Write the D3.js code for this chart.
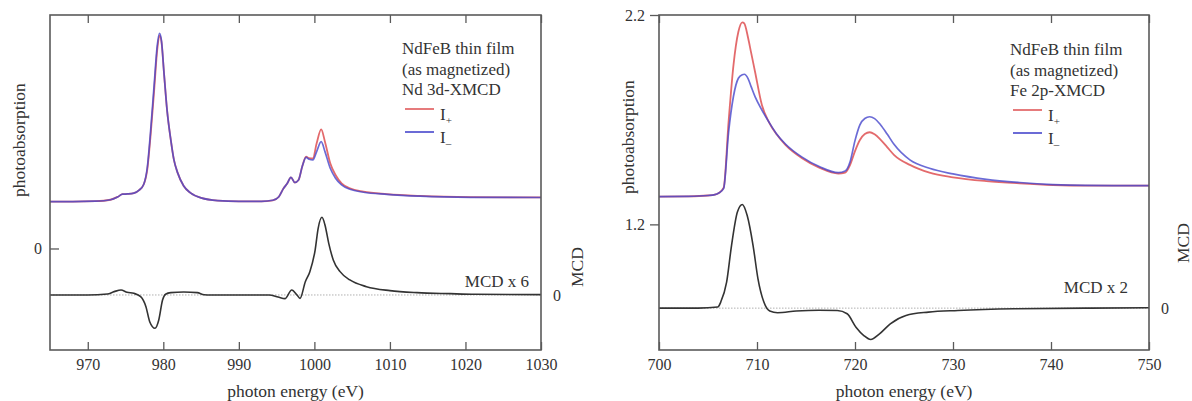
<!DOCTYPE html>
<html><head><meta charset="utf-8">
<script src="https://cdn.jsdelivr.net/npm/d3@7"></script>
<style>
body{margin:0;background:#fff}
text{font-family:"Liberation Serif","Times New Roman",serif;fill:#333}
</style>
</head><body>
<svg id="chart" width="1192" height="401" font-family="Liberation Serif, Times New Roman, serif"></svg>
<script>
// ---------- Nd 3d panel data ----------
const ndEnergy = [965,968,971,973,974,974.6,975.3,976.1,976.8,977.4,977.9,978.3,978.8,979.2,979.5,979.75,980.1,980.5,981.0,981.4,981.9,982.7,983.6,985.0,987.2,990,993,994.5,995.3,995.9,996.4,996.9,997.4,997.9,998.4,998.9,999.3,999.8,1000.3,1000.9,1001.4,1002.1,1002.8,1003.6,1004.7,1006.5,1009.6,1014,1020.7,1030];
const ndIplus  = [0.462,0.462,0.466,0.48,0.51,0.535,0.537,0.545,0.575,0.63,0.79,1.10,1.57,1.96,2.10,2.04,1.72,1.36,1.065,0.875,0.745,0.615,0.548,0.498,0.472,0.465,0.465,0.475,0.51,0.59,0.64,0.70,0.65,0.675,0.81,0.905,0.89,0.888,1.036,1.174,1.052,0.839,0.724,0.642,0.593,0.560,0.536,0.518,0.506,0.503];
const ndIminus = [0.462,0.462,0.466,0.48,0.51,0.535,0.537,0.545,0.575,0.63,0.81,1.14,1.625,2.00,2.12,2.05,1.72,1.36,1.065,0.875,0.745,0.615,0.548,0.498,0.472,0.465,0.465,0.475,0.51,0.59,0.64,0.70,0.65,0.675,0.81,0.898,0.879,0.872,0.954,1.052,0.954,0.790,0.692,0.626,0.583,0.554,0.533,0.515,0.504,0.502];
const ndMcdEnergy = [965,970,972.6,973.5,974.4,975.2,976.1,977.0,977.7,978.2,978.9,979.4,979.9,980.3,981.0,982.7,984.5,985.4,986.3,991.5,994.0,995.2,996.1,997.0,997.7,998.1,998.8,999.4,1000.1,1000.5,1001.0,1001.4,1001.9,1002.5,1003.4,1004.7,1006.9,1010.0,1013.6,1018,1021.3,1030];
const ndMcd = [0,0,0.01,0.033,0.049,0.026,0.016,-0.016,-0.115,-0.263,-0.328,-0.246,-0.05,0.007,0.023,0.03,0.023,0.003,0,0,0,-0.02,-0.036,0.049,0,-0.033,0.131,0.23,0.443,0.657,0.765,0.69,0.509,0.345,0.23,0.148,0.082,0.043,0.023,0.013,0.007,0.003];
const ndTicks = [970,980,990,1000,1010,1020,1030];
const ndYTicks = [0];
const ndLegend = ["NdFeB thin film","(as magnetized)","Nd 3d-XMCD"];
const ndMcdLabel = "MCD x 6";

// ---------- Fe 2p panel data ----------
const feEnergy = [700,703,705,705.7,706.1,706.6,707.1,707.6,708.1,708.5,708.7,709.1,709.4,709.8,710.5,711.2,712.0,712.9,714.6,716.4,718.3,719.0,719.5,720.0,720.5,721.0,721.5,722.0,722.6,723.3,724.0,725.6,727.6,730,733.4,736.8,740.2,743.5,750];
const feIplus  = [1.333,1.334,1.338,1.342,1.350,1.375,1.690,1.961,2.120,2.165,2.160,2.089,2.02,1.929,1.770,1.690,1.630,1.580,1.516,1.470,1.443,1.447,1.484,1.550,1.603,1.632,1.640,1.630,1.605,1.568,1.531,1.484,1.447,1.425,1.407,1.396,1.388,1.385,1.385];
const feIminus = [1.333,1.334,1.338,1.342,1.350,1.372,1.640,1.812,1.898,1.915,1.917,1.895,1.858,1.81,1.746,1.690,1.632,1.584,1.521,1.475,1.447,1.455,1.499,1.600,1.675,1.706,1.714,1.705,1.676,1.630,1.581,1.508,1.468,1.441,1.415,1.400,1.390,1.386,1.385];
const feMcdEnergy = [700,704,706.0,706.3,706.9,707.4,708.0,708.5,709.0,709.6,710.1,710.7,711.3,712.1,714.0,716.3,718.2,719.2,720.1,720.9,721.6,722.5,723.6,725.2,727.5,730.5,736.3,744,750];
const feMcd = [0,0,0.005,0.029,0.124,0.299,0.459,0.495,0.442,0.299,0.140,0.029,-0.014,-0.022,-0.014,-0.010,-0.011,-0.027,-0.091,-0.131,-0.150,-0.123,-0.075,-0.035,-0.019,-0.011,-0.003,0,0.002];
const feTicks = [700,710,720,730,740,750];
const feYTicks = [1.2,2.2];
const feLegend = ["NdFeB thin film","(as magnetized)","Fe 2p-XMCD"];
const feMcdLabel = "MCD x 2";

const RED = "#e05a5c", BLUE = "#4646cc", BLACK = "#333", FRAME = "#5a5a5a";
const FONT = '"Liberation Serif","Times New Roman",serif';
const svg = d3.select("#chart");
svg.append("rect").attr("width",1192).attr("height",401).attr("fill","#fff");

function drawPanel(cfg){
  const top = 15, bottom = 350;
  const g = svg.append("g").style("font-family", FONT);
  const x = d3.scaleLinear().domain(cfg.xDomain).range([cfg.left, cfg.right]);
  const y = d3.scaleLinear().domain(cfg.yDomain).range([bottom, top]);
  const m = d3.scaleLinear().domain(cfg.mDomain).range([bottom, top]);

  // zero line of MCD
  g.append("line").attr("x1",cfg.left).attr("x2",cfg.right)
    .attr("y1",m(0)).attr("y2",m(0))
    .attr("stroke","#b0b0b0").attr("stroke-width",1).attr("stroke-dasharray","1.5,1.5");

  const line = (es, sc) => d3.line().x((d,i)=>x(es[i])).y(d=>sc(d)).curve(d3.curveMonotoneX);
  g.append("path").datum(cfg.iplus).attr("d", line(cfg.energy, y))
    .attr("fill","none").attr("stroke",RED).attr("stroke-width",1.8).attr("stroke-opacity",0.9);
  g.append("path").datum(cfg.iminus).attr("d", line(cfg.energy, y))
    .attr("fill","none").attr("stroke",BLUE).attr("stroke-width",1.7).attr("stroke-opacity",0.8);
  g.append("path").datum(cfg.mcd).attr("d", line(cfg.mcdEnergy, m))
    .attr("fill","none").attr("stroke",BLACK).attr("stroke-width",1.6);

  // axes
  const bx = g.append("g").attr("transform",`translate(0,${bottom})`)
    .call(d3.axisBottom(x).tickValues(cfg.ticks).tickSize(-8).tickPadding(9).tickFormat(d3.format("d")));
  const tx = g.append("g").attr("transform",`translate(0,${top})`)
    .call(d3.axisTop(x).tickValues(cfg.ticks).tickSize(-8).tickFormat(""));
  const ly = g.append("g").attr("transform",`translate(${cfg.left},0)`)
    .call(d3.axisLeft(y).tickValues(cfg.yTicks).tickSize(cfg.yTickSize).tickPadding(cfg.yTickPad).tickFormat(d=>cfg.yFmt(d)));
  const ry = g.append("g").attr("transform",`translate(${cfg.right},0)`)
    .call(d3.axisRight(m).tickValues([0]).tickSize(0).tickPadding(12).tickFormat(d3.format("d")));
  [bx,tx,ly,ry].forEach(a=>{
    a.attr("font-family", FONT);
    a.select(".domain").remove();
    a.selectAll("line").attr("stroke",FRAME).attr("stroke-width",1.3);
    a.selectAll("text").attr("font-size",16).attr("fill","#333");
  });

  // frame
  g.append("rect").attr("x",cfg.left).attr("y",top).attr("width",cfg.right-cfg.left).attr("height",bottom-top)
    .attr("fill","none").attr("stroke",FRAME).attr("stroke-width",1.6);

  // axis labels
  g.append("text").attr("x",(cfg.left+cfg.right)/2).attr("y",397).attr("text-anchor","middle")
    .attr("font-size",17.5).text("photon energy (eV)");
  g.append("text").attr("transform",`translate(${cfg.ylabX},${cfg.ylabY}) rotate(-90)`)
    .attr("text-anchor","middle").attr("dy","0.35em").attr("font-size",17.5).text("photoabsorption");
  g.append("text").attr("transform",`translate(${cfg.mcdX},${cfg.mcdY}) rotate(-90)`)
    .attr("text-anchor","middle").attr("dy","0.35em").attr("font-size",17.5).text("MCD");
  g.append("text").attr("x",cfg.mcdTxtX).attr("y",cfg.mcdTxtY).attr("text-anchor","end")
    .attr("font-size",17).text(cfg.mcdText);

  // legend
  const lg = g.append("g");
  cfg.legend.forEach((t,i)=>{
    lg.append("text").attr("x",cfg.legX).attr("y",cfg.legY + i*20.5).attr("font-size",17).text(t);
  });
  const items = [{c:RED, s:"+", dy:0},{c:BLUE, s:"\u2013", dy:23}];
  items.forEach(it=>{
    const ly0 = cfg.legY + 55 + it.dy;
    lg.append("line").attr("x1",cfg.legX+3).attr("x2",cfg.legX+32).attr("y1",ly0).attr("y2",ly0)
      .attr("stroke",it.c).attr("stroke-width",1.6);
    const t = lg.append("text").attr("x",cfg.legX+38).attr("y",ly0+11).attr("font-size",17);
    t.append("tspan").text("I");
    t.append("tspan").attr("font-size",11).attr("dy",4).text(it.s);
  });
}

drawPanel({
  left:50, right:541, xDomain:[965,1030], yDomain:[-1,2.3], mDomain:[-0.542,2.758],
  energy:ndEnergy, iplus:ndIplus, iminus:ndIminus, mcdEnergy:ndMcdEnergy, mcd:ndMcd,
  ticks:ndTicks, yTicks:ndYTicks, yTickSize:-9, yTickPad:8, yFmt:d3.format("d"),
  ylabX:19, ylabY:140, mcdX:577, mcdY:267, mcdText:ndMcdLabel, mcdTxtX:529, mcdTxtY:287,
  legend:ndLegend, legX:402, legY:54
});
drawPanel({
  left:659, right:1149, xDomain:[700,750], yDomain:[0.6,2.2], mDomain:[-0.2,1.4],
  energy:feEnergy, iplus:feIplus, iminus:feIminus, mcdEnergy:feMcdEnergy, mcd:feMcd,
  ticks:feTicks, yTicks:feYTicks, yTickSize:9, yTickPad:5, yFmt:d3.format(".1f"),
  ylabX:628, ylabY:137, mcdX:1183, mcdY:243, mcdText:feMcdLabel, mcdTxtX:1128, mcdTxtY:293,
  legend:feLegend, legX:1010, legY:55
});
</script>
</body></html>
